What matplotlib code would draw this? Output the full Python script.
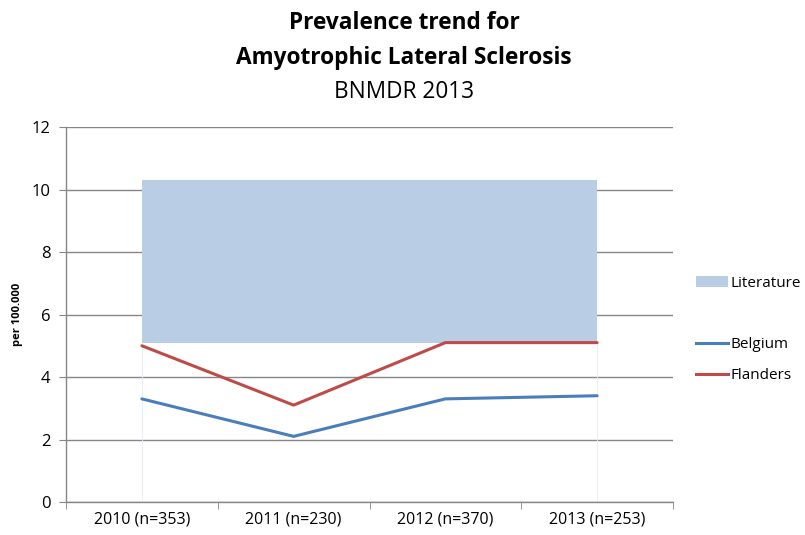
import matplotlib
matplotlib.use("Agg")
import matplotlib.pyplot as plt
from matplotlib.patches import Patch
from matplotlib.lines import Line2D

plt.rcParams['font.family'] = ['Open Sans', 'DejaVu Sans']

categories = ["2010 (n=353)", "2011 (n=230)", "2012 (n=370)", "2013 (n=253)"]
belgium = [3.3, 2.1, 3.3, 3.4]
flanders = [5.0, 3.1, 5.1, 5.1]
literature_low = [5.1, 5.1, 5.1, 5.1]
literature_high = [10.3, 10.3, 10.3, 10.3]
yticks = [0, 2, 4, 6, 8, 10, 12]

fig = plt.figure(figsize=(8.05, 5.35), dpi=100)
ax = fig.add_axes([66 / 805, 33 / 535, 607 / 805, 375 / 535])

x = list(range(len(categories)))
grid_c = '#868686'

ax.fill_between(x, literature_low, literature_high, color='#B9CDE5', lw=0, zorder=1)
ax.vlines([x[0], x[-1]], 0, literature_low[0], color='#E4ECF6', lw=0.6, zorder=1)
ax.plot(x, belgium, color='#4A7EBB', lw=2.2, solid_capstyle='round', zorder=3)
ax.plot(x, flanders, color='#BE4B48', lw=2.2, solid_capstyle='round', zorder=3)

ax.set_xlim(-0.5, len(categories) - 0.5)
ax.set_ylim(0, 12)
ax.set_yticks(yticks)
ax.set_yticklabels([str(v) for v in yticks], fontsize=12)
ax.set_xticks(x)
ax.set_xticklabels(categories, fontsize=11.5)
ax.tick_params(axis='x', length=0, pad=7)
ax.set_xticks([i - 0.5 for i in range(len(categories) + 1)], minor=True)
ax.tick_params(axis='x', which='minor', length=5, color=grid_c, direction='out')
ax.tick_params(axis='y', length=5, color=grid_c, direction='out', pad=6)

ax.yaxis.grid(True, color=grid_c, lw=1.0, zorder=0)
ax.set_axisbelow(True)
for side in ('top', 'right'):
    ax.spines[side].set_visible(False)
for side in ('left', 'bottom'):
    ax.spines[side].set_color(grid_c)
    ax.spines[side].set_linewidth(1.0)

ax.set_ylabel('per 100.000', fontsize=8, fontweight='bold', labelpad=6)

fig.text(0.502, 1 - 23 / 535, 'Prevalence trend for', ha='center', va='center',
         fontsize=16.3, fontweight='bold')
fig.text(0.502, 1 - 58 / 535, 'Amyotrophic Lateral Sclerosis', ha='center', va='center',
         fontsize=16.3, fontweight='bold')
fig.text(0.502, 1 - 92 / 535, 'BNMDR 2013', ha='center', va='center', fontsize=16.3)

handles = [Patch(facecolor='#B9CDE5', edgecolor='none'),
           Line2D([], [], color='none'),
           Line2D([], [], color='#4A7EBB', lw=2.2),
           Line2D([], [], color='#BE4B48', lw=2.2)]
labels = ['Literature', '', 'Belgium', 'Flanders']
fig.legend(handles, labels, loc='upper left', bbox_to_anchor=(690 / 805, 1 - 270 / 535),
           frameon=False, fontsize=11, handlelength=2.1, handletextpad=0.15,
           labelspacing=1.02, borderaxespad=0)

fig.savefig('out.png', dpi=100)
